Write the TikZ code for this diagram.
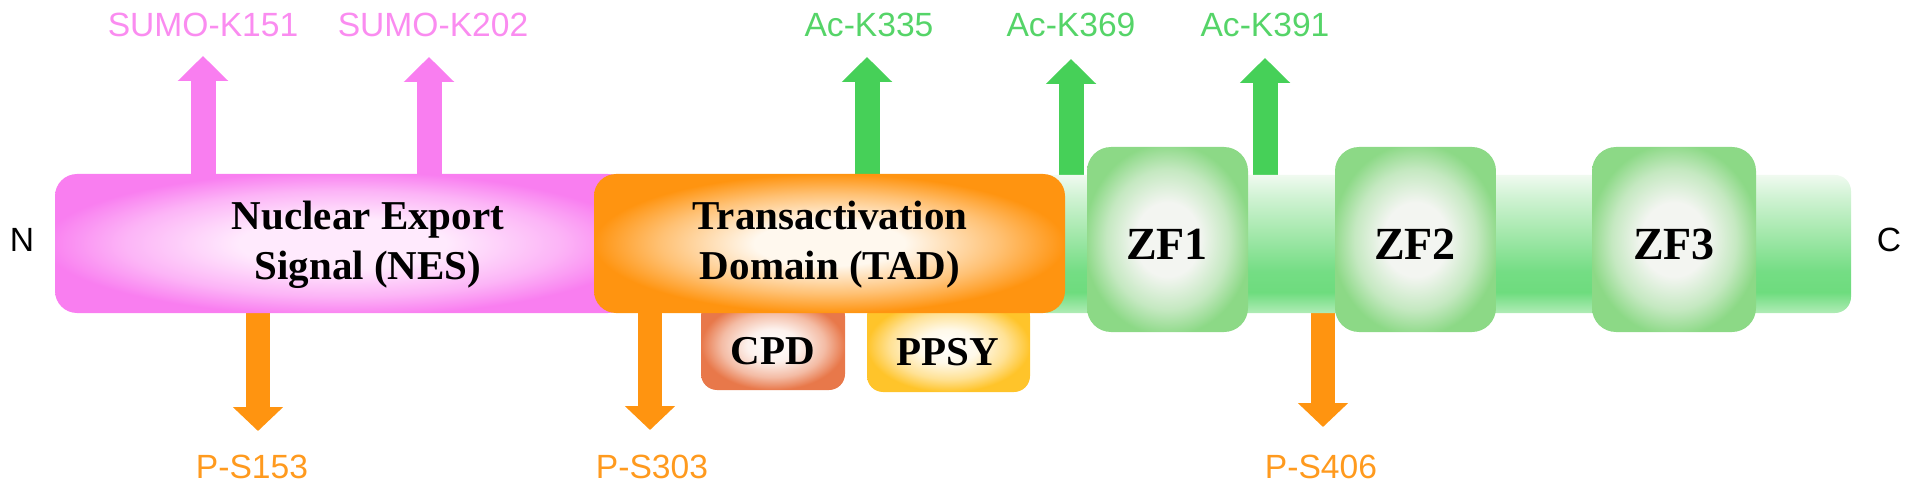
\documentclass[tikz,border=0pt]{standalone}
\usepackage{fontspec}
\setmainfont{Liberation Serif}
\setsansfont{Liberation Sans}
\usetikzlibrary{arrows.meta}
\definecolor{pinkc}{HTML}{F97EF0}
\definecolor{pinktext}{HTML}{FA8CF0}
\definecolor{orangec}{HTML}{FF9410}
\definecolor{orangetext}{HTML}{FF9A1E}
\definecolor{greenc}{HTML}{46D058}
\definecolor{greentext}{HTML}{55D468}
\definecolor{zfc}{HTML}{8CD986}
\definecolor{zfin}{HTML}{F3F5F1}
\definecolor{cpdc}{HTML}{E8784A}
\definecolor{ppsyc}{HTML}{FFC42A}
\definecolor{nesin}{HTML}{FFEAFD}
\definecolor{tadin}{HTML}{FFF8EE}
\definecolor{gA}{HTML}{B0ECB6}
\definecolor{gB}{HTML}{6EDC7E}
\definecolor{gC}{HTML}{74DD84}
\definecolor{gD}{HTML}{A8E9AF}
\definecolor{gE}{HTML}{D2F3D5}
\definecolor{gF}{HTML}{F0FAF0}
\pgfdeclareverticalshading{gbar}{100bp}{color(0bp)=(gA); color(25bp)=(gA); color(32.5bp)=(gB); color(40bp)=(gC); color(55bp)=(gD); color(67.5bp)=(gE); color(75bp)=(gF); color(100bp)=(gF)}
\pgfdeclareradialshading{nesshade}{\pgfpoint{0bp}{0bp}}{color(0bp)=(nesin); color(9bp)=(nesin); color(19bp)=(nesin!50!pinkc); color(26bp)=(pinkc); color(50bp)=(pinkc)}
\pgfdeclareradialshading{tadshade}{\pgfpoint{0bp}{0bp}}{color(0bp)=(tadin); color(8bp)=(tadin); color(18bp)=(tadin!45!orangec); color(25bp)=(orangec); color(50bp)=(orangec)}
\pgfdeclareradialshading{zfshade}{\pgfpoint{0bp}{0bp}}{color(0bp)=(zfin); color(10bp)=(zfin); color(19bp)=(zfin!55!zfc); color(26bp)=(zfc); color(50bp)=(zfc)}
\pgfdeclareradialshading{cpdshade}{\pgfpoint{0bp}{0bp}}{color(0bp)=(white); color(9bp)=(white!90!cpdc); color(18bp)=(white!50!cpdc); color(25bp)=(cpdc); color(50bp)=(cpdc)}
\pgfdeclareradialshading{ppsyshade}{\pgfpoint{0bp}{0bp}}{color(0bp)=(white); color(9bp)=(white!90!ppsyc); color(18bp)=(white!50!ppsyc); color(25bp)=(ppsyc); color(50bp)=(ppsyc)}
\tikzset{
  x=0.5pt, y=-0.5pt,
  sitelab/.style={font=\sffamily\fontsize{16.8}{18}\selectfont, inner sep=0pt},
  boldlab/.style={font=\bfseries\fontsize{20.5}{25}\selectfont, align=center, inner sep=0pt, text=black},
  zflab/.style={font=\bfseries\fontsize{23}{26}\selectfont, inner sep=0pt, text=black},
  uparr/.style={line width=12.5pt, line cap=butt, -{Triangle[width=24.5pt,length=12.5pt]}},
  pinkarr/.style={uparr, draw=pinkc},
  greenarr/.style={uparr, draw=greenc},
  downarr/.style={line width=12pt, line cap=butt, draw=orangec, -{Triangle[width=24.5pt,length=12pt]}},
}
\begin{document}
\begin{tikzpicture}
\useasboundingbox (0,0) rectangle (1913,492);
% terminal labels
\node[font=\sffamily\fontsize{16.8}{18}\selectfont, inner sep=0pt] (nterm) at (22,240) {N};
\node[font=\sffamily\fontsize{16.8}{18}\selectfont, inner sep=0pt] (cterm) at (1889,240) {C};
% site labels
\node[sitelab, text=pinktext] (s151) at (203,25) {SUMO-K151};
\node[sitelab, text=pinktext] (s202) at (433,25) {SUMO-K202};
\node[sitelab, text=greentext] (a335) at (869,25) {Ac-K335};
\node[sitelab, text=greentext] (a369) at (1071,25) {Ac-K369};
\node[sitelab, text=greentext] (a391) at (1265,25) {Ac-K391};
\node[sitelab, text=orangetext] (p153) at (252,467) {P-S153};
\node[sitelab, text=orangetext] (p303) at (652,467) {P-S303};
\node[sitelab, text=orangetext] (p406) at (1321,467) {P-S406};
% arrow end coordinates
\coordinate (b151) at (203,176); \coordinate (t151) at (203,56);
\coordinate (b202) at (429,176); \coordinate (t202) at (429,57);
\coordinate (b335) at (867,176); \coordinate (t335) at (867,57);
\coordinate (b369) at (1071,178); \coordinate (t369) at (1071,59);
\coordinate (b391) at (1265,178); \coordinate (t391) at (1265,58);
\coordinate (b153) at (258,310); \coordinate (t153) at (258,431);
\coordinate (b303) at (650,310); \coordinate (t303) at (650,430);
\coordinate (b406) at (1323,310); \coordinate (t406) at (1323,427);
\draw[pinkarr] (b151) -- (t151);
\draw[pinkarr] (b202) -- (t202);
\draw[greenarr] (b335) -- (t335);
\draw[greenarr] (b369) -- (t369);
\draw[greenarr] (b391) -- (t391);
\draw[downarr] (b153) -- (t153);
\draw[downarr] (b303) -- (t303);
\draw[downarr] (b406) -- (t406);
% green backbone
\shade[shading=gbar, rounded corners=8pt] (1030,175) rectangle (1851,313);
% NES
\shade[shading=nesshade, rounded corners=11pt] (55,174) rectangle (630,313);
% CPD and PPSY
\shade[shading=cpdshade, rounded corners=8pt] (701,300) rectangle (845,390);
\shade[shading=ppsyshade, rounded corners=8pt] (867,300) rectangle (1030,392);
% TAD
\shade[shading=tadshade, rounded corners=11pt] (594,174) rectangle (1065,313);
% ZF boxes
\shade[shading=zfshade, rounded corners=12pt] (1087,147) rectangle (1248,332);
\shade[shading=zfshade, rounded corners=12pt] (1335,147) rectangle (1496,332);
\shade[shading=zfshade, rounded corners=12pt] (1592,147) rectangle (1756,332);
% domain labels
\node[boldlab] (nes) at (368,245) {Nuclear Export\\Signal (NES)};
\node[boldlab] (tad) at (830,245) {Transactivation\\Domain (TAD)};
\node[boldlab] (cpd) at (773,351) {CPD};
\node[boldlab] (ppsy) at (948,352) {PPSY};
\node[zflab] (zf1) at (1167,244) {ZF1};
\node[zflab] (zf2) at (1415,244) {ZF2};
\node[zflab] (zf3) at (1674,244) {ZF3};
\end{tikzpicture}
\end{document}
